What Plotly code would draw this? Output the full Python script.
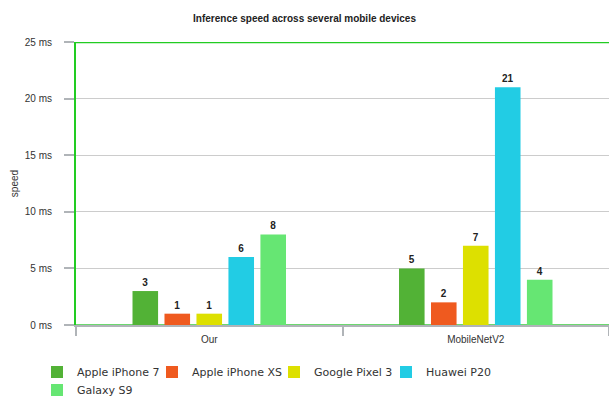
import plotly.graph_objects as go

categories = ["Our", "MobileNetV2"]
devices = ["Apple iPhone 7", "Apple iPhone XS", "Google Pixel 3", "Huawei P20", "Galaxy S9"]
values = {
    "Apple iPhone 7": [3, 5],
    "Apple iPhone XS": [1, 2],
    "Google Pixel 3": [1, 7],
    "Huawei P20": [6, 21],
    "Galaxy S9": [8, 4],
}
colors = ["#52b236", "#ef5a1f", "#dde000", "#22cce4", "#66e673"]
y_ticks = [0, 5, 10, 15, 20, 25]
y_tick_labels = ["0 ms", "5 ms", "10 ms", "15 ms", "20 ms", "25 ms"]

# legend entry placement (pixels): swatch left x, row center y
legend_pos = [(51, 372), (166, 372), (288, 372), (400, 372), (51, 390)]

W, H = 609, 396
ML, MR, MT, MB = 76, 0, 42, 71
plot_w, plot_h = W - ML - MR, H - MT - MB

fig = go.Figure()
layout_legends = {}
for i, d in enumerate(devices):
    lname = "legend" if i == 0 else f"legend{i + 1}"
    fig.add_trace(go.Bar(
        x=categories, y=values[d], name=d,
        marker=dict(color=colors[i], line=dict(width=0)),
        text=[str(v) for v in values[d]], textposition="outside",
        textfont=dict(family="Liberation Sans, Arial", size=10, color="#222"),
        texttemplate="<b>%{text}</b>", cliponaxis=False,
        legend=lname,
    ))
    px, py = legend_pos[i]
    layout_legends[lname] = dict(
        orientation="h", xanchor="left", yanchor="middle",
        x=(px - 14 - ML) / plot_w, y=-(py - (H - MB)) / plot_h,
        font=dict(family="DejaVu Sans", size=11, color="#333"),
        bgcolor="rgba(0,0,0,0)", borderwidth=0,
    )

fig.update_layout(
    width=W, height=H,
    margin=dict(l=ML, r=MR, t=MT, b=MB, autoexpand=False),
    plot_bgcolor="white", paper_bgcolor="white",
    barmode="group", bargap=0.4, bargroupgap=0.2,
    title=dict(text="<b>Inference speed across several mobile devices</b>",
               x=0.5, xanchor="center", y=1 - 18 / H, yanchor="middle",
               font=dict(family="Liberation Sans, Arial", size=10, color="#222")),
    font=dict(family="Liberation Sans, Arial", size=10, color="#333"),
    showlegend=True,
    xaxis=dict(range=[-0.5, 1.5], showline=True, linecolor="#b0b4b8", linewidth=2,
               ticks="outside", tickson="boundaries", ticklen=9, tickcolor="#b0b4b8", tickwidth=2,
               ticklabelstandoff=4,
               showgrid=False, tickfont=dict(size=10, color="#333")),
    yaxis=dict(range=[0, 25], tickvals=y_ticks, ticktext=y_tick_labels,
               showline=True, linecolor="#22cc22", linewidth=2,
               ticks="outside", ticklen=10, tickcolor="#b0b4b8", tickwidth=2,
               ticklabelstandoff=10,
               showgrid=True, gridcolor="#cccccc", gridwidth=1,
               zeroline=True, zerolinecolor="#6cd870", zerolinewidth=2,
               title=dict(text="speed", standoff=4, font=dict(size=10, color="#333")),
               tickfont=dict(size=10, color="#333")),
    **layout_legends,
)
fig.add_shape(type="line", xref="paper", yref="y", x0=0, x1=1, y0=25, y1=25,
              line=dict(color="#22cc22", width=2.5))

fig.write_html("out.html")
